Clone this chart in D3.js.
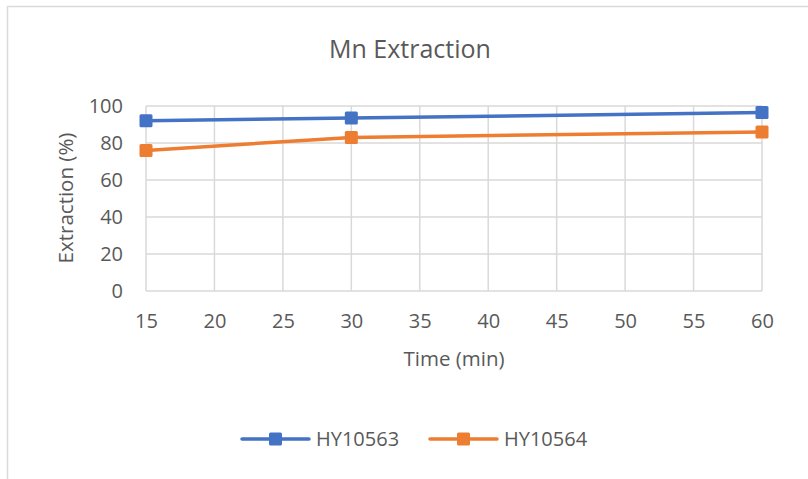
<!DOCTYPE html>
<html>
<head>
<meta charset="utf-8">
<script src="https://cdn.jsdelivr.net/npm/d3@7"></script>
<style>
  body { margin: 0; background: #fff; }
  svg { font-family: "Open Sans", sans-serif; }
</style>
</head>
<body>
<div class="vis-linechart"></div>
<script>
const times = [15, 30, 60];
const hy10563 = [92, 93.5, 96.5];
const hy10564 = [76, 83, 86];
const seriesNames = ["HY10563", "HY10564"];
const seriesColors = ["#4472c4", "#ed7d31"];
const xTicks = [15, 20, 25, 30, 35, 40, 45, 50, 55, 60];
const yTicks = [0, 20, 40, 60, 80, 100];

const W = 808, H = 479;
const svg = d3.select(".vis-linechart")
  .append("svg")
  .attr("width", W)
  .attr("height", H);

// chart frame
svg.append("path")
  .attr("d", "M7.5," + H + " V6.5 H" + W)
  .attr("fill", "none")
  .attr("stroke", "#d9d9d9")
  .attr("stroke-width", 1.5);

let x = d3.scaleLinear().domain([15, 60]).range([146, 762]);
let y = d3.scaleLinear().domain([0, 100]).range([291, 106]);

svg.append("text")
  .attr("x", 410).attr("y", 58)
  .attr("text-anchor", "middle")
  .attr("font-size", 25)
  .attr("fill", "#595959")
  .text("Mn Extraction");

// gridlines
svg.append("g")
  .selectAll("line")
  .data(yTicks)
  .enter().append("line")
  .attr("x1", x(15)).attr("x2", x(60))
  .attr("y1", d => y(d)).attr("y2", d => y(d))
  .attr("stroke", "#d9d9d9").attr("stroke-width", 1.5);
svg.append("g")
  .selectAll("line")
  .data(xTicks)
  .enter().append("line")
  .attr("x1", d => x(d)).attr("x2", d => x(d))
  .attr("y1", y(0)).attr("y2", y(100))
  .attr("stroke", "#d9d9d9").attr("stroke-width", 1.5);

// axes (labels only)
const xAxis = svg.append("g")
  .attr("transform", "translate(0," + y(0) + ")")
  .call(d3.axisBottom(x).tickValues(xTicks).tickSize(0).tickPadding(23));
const yAxis = svg.append("g")
  .attr("transform", "translate(" + x(15) + ",0)")
  .call(d3.axisLeft(y).tickValues(yTicks).tickSize(0).tickPadding(23));
[xAxis, yAxis].forEach(a => {
  a.select(".domain").remove();
  a.selectAll("text")
    .attr("font-family", "Open Sans, sans-serif")
    .attr("font-size", 20)
    .attr("fill", "#595959");
});
xAxis.selectAll("text").attr("dy", "0.71em");

svg.append("text")
  .attr("x", 454).attr("y", 366)
  .attr("text-anchor", "middle")
  .attr("font-size", 20.5)
  .attr("fill", "#595959")
  .text("Time (min)");

svg.append("text")
  .attr("transform", "rotate(-90)")
  .attr("x", -198).attr("y", 73)
  .attr("text-anchor", "middle")
  .attr("font-size", 20.5)
  .attr("fill", "#595959")
  .text("Extraction (%)");

// series
const series = [hy10563, hy10564];
const line = d3.line()
  .x((d, i) => x(times[i]))
  .y(d => y(d));

series.forEach((vals, k) => {
  svg.append("path")
    .datum(vals)
    .attr("fill", "none")
    .attr("stroke", seriesColors[k])
    .attr("stroke-width", 3.5)
    .attr("stroke-linecap", "round")
    .attr("d", line);
  svg.append("g")
    .selectAll("rect")
    .data(vals)
    .enter().append("rect")
    .attr("x", (d, i) => x(times[i]) - 6.5)
    .attr("y", d => y(d) - 6.5)
    .attr("width", 13).attr("height", 13)
    .attr("rx", 1.5)
    .attr("fill", seriesColors[k]);
});

// legend
const legendX = [242, 430];
seriesNames.forEach((name, k) => {
  const g = svg.append("g")
    .attr("transform", "translate(" + legendX[k] + ",439)");
  g.append("line")
    .attr("x1", 0).attr("x2", 67)
    .attr("stroke", seriesColors[k])
    .attr("stroke-width", 3.5)
    .attr("stroke-linecap", "round");
  g.append("rect")
    .attr("x", 27).attr("y", -6.5)
    .attr("width", 13).attr("height", 13)
    .attr("rx", 1.5)
    .attr("fill", seriesColors[k]);
  g.append("text")
    .attr("x", 74).attr("y", 0)
    .attr("dy", "0.35em")
    .attr("font-size", 20)
    .attr("fill", "#595959")
    .text(name);
});
</script>
</body>
</html>
